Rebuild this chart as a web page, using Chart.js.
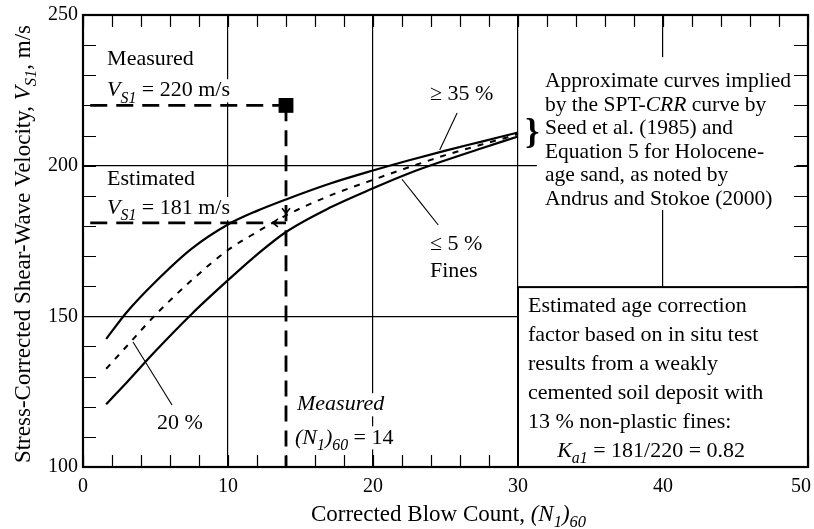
<!DOCTYPE html>
<html lang="en">
<head>
    <meta charset="UTF-8">
    <title>Stress-Corrected Shear-Wave Velocity vs Corrected Blow Count</title>
    <script src="https://cdn.jsdelivr.net/npm/chart.js@4.4.0/dist/chart.umd.min.js"></script>
    <style>
        body {
            margin: 0;
            background: #fff;
        }
        canvas {
            display: block;
        }
    </style>
</head>
<body>
    <canvas id="vsChart" width="814" height="529"></canvas>

    <script>
        // curves
        const blowCount = [1.6, 3, 5, 7.5, 10, 12, 14, 17, 20, 22.5, 25, 27.5, 30];
        const vsFines35 = [142.5, 151.3, 161.5, 172.5, 180.5, 185, 188.8, 194, 198.4, 201.8, 205, 208, 211];
        const vsFines20 = [132.6, 140, 150.5, 162, 172, 178, 183.5, 190, 195.3, 199.5, 203.5, 207, 210.4];
        const vsFines5 = [120.8, 128, 138.5, 150.8, 162, 170.5, 178, 186, 192.5, 197.5, 201.8, 205.8, 209.7];

        // measured / estimated values
        const measuredN = 14;
        const measuredVs = 220;
        const estimatedVs = 181;

        // leader lines [x...], [y...]
        const leader20X = [3.45, 6.14], leader20Y = [141.5, 120.6];
        const leader35X = [25.8, 24.6], leader35Y = [217.5, 205.2];
        const leader5X = [22.0, 24.5], leader5Y = [195.5, 180.3];

        const xTickLabels = [0, 10, 20, 30, 40, 50];
        const yTickLabels = [100, 150, 200, 250];

        const FAM = '"Liberation Serif", "Times New Roman", serif';

        function pts(xs, ys) {
            return xs.map((v, i) => ({ x: v, y: ys[i] }));
        }

        function line(data, width, dash) {
            return {
                type: 'line',
                data: data,
                borderColor: '#000',
                borderWidth: width,
                borderDash: dash || [],
                pointRadius: 0,
                fill: false,
                cubicInterpolationMode: 'monotone'
            };
        }

        // draws text made of segments [text, flags]; flags: i = italic, s = subscript
        function rich(ctx, segs, x, y, size, opts) {
            opts = opts || {};
            const fontOf = f => (f.includes('i') ? 'italic ' : '') + (f.includes('s') ? size * 0.72 : size) + 'px ' + FAM;
            let w = 0;
            segs.forEach(s => { ctx.font = fontOf(s[1] || ''); w += ctx.measureText(s[0]).width; });
            let cx = opts.align === 'center' ? x - w / 2 : x;
            const base = y + size * 0.33;
            if (opts.bg) {
                ctx.fillStyle = '#fff';
                ctx.fillRect(cx - 2, y - size * 0.45, w + 4, size * 1.05);
                return;
            }
            ctx.fillStyle = '#000';
            ctx.textBaseline = 'alphabetic';
            ctx.textAlign = 'left';
            segs.forEach(s => {
                const f = s[1] || '';
                ctx.font = fontOf(f);
                ctx.fillText(s[0], cx, f.includes('s') ? base + size * 0.28 : base);
                cx += ctx.measureText(s[0]).width;
            });
        }

        const approxLines = [
            [['Approximate curves implied']],
            [['by the SPT-'], ['CRR', 'i'], [' curve by']],
            [['Seed et al. (1985) and']],
            [['Equation 5 for Holocene-']],
            [['age sand, as noted by']],
            [['Andrus and Stokoe (2000)']]
        ];
        const boxLines = [
            [['Estimated age correction']],
            [['factor based on in situ test']],
            [['results from a weakly']],
            [['cemented soil deposit with']],
            [['13 % non-plastic fines:']]
        ];
        const kLine = [['K', 'i'], ['a1', 'is'], [' = 181/220 = 0.82']];

        // free labels: [segments, x, y, white backing]
        const labels = [
            [[['Measured']], 1.66, 235.7, false],
            [[['V', 'i'], ['S1', 'is'], [' = 220 m/s']], 1.66, 225.4, true],
            [[['Estimated']], 1.66, 196, false],
            [[['V', 'i'], ['S1', 'is'], [' = 181 m/s']], 1.66, 186.3, true],
            [[['20 %']], 5.1, 114.9, false],
            [[['Measured', 'i']], 14.76, 121.2, true],
            [[['(', 'i'], ['N', 'i'], ['1', 'is'], [')', 'i'], ['60', 'is'], [' = 14']], 14.62, 110.2, true],
            [[['\u2265 35 %']], 23.93, 224.1, false],
            [[['\u2264 5 %']], 23.93, 174.3, false],
            [[['Fines']], 23.93, 165.4, false]
        ];

        const decor = {
            id: 'decor',
            beforeDatasetsDraw(chart) {
                const { ctx, chartArea: a, scales: { x, y } } = chart;
                ctx.save();
                // white backing of the right text block
                ctx.fillStyle = '#fff';
                const bx0 = x.getPixelForValue(31.3), bx1 = x.getPixelForValue(49.2);
                const by0 = y.getPixelForValue(236), by1 = y.getPixelForValue(185.3);
                ctx.fillRect(bx0, by0, bx1 - bx0, by1 - by0);
                labels.forEach(l => {
                    if (l[3]) rich(ctx, l[0], x.getPixelForValue(l[1]), y.getPixelForValue(l[2]), 22, { bg: true });
                });

                // inward tick marks
                ctx.strokeStyle = '#000';
                ctx.lineWidth = 1.2;
                ctx.beginPath();
                x.ticks.forEach(t => {
                    const px = Math.round(x.getPixelForValue(t.value)) + 0.5;
                    ctx.moveTo(px, a.top); ctx.lineTo(px, a.top + 12);
                    ctx.moveTo(px, a.bottom); ctx.lineTo(px, a.bottom - 12);
                });
                y.ticks.forEach(t => {
                    const py = Math.round(y.getPixelForValue(t.value)) + 0.5;
                    ctx.moveTo(a.left, py); ctx.lineTo(a.left + 13, py);
                    ctx.moveTo(a.right, py); ctx.lineTo(a.right - 14, py);
                });
                ctx.stroke();

                // result box
                const kx0 = x.getPixelForValue(30), kx1 = x.getPixelForValue(50);
                const ky0 = y.getPixelForValue(159.7), ky1 = y.getPixelForValue(100);
                ctx.fillStyle = '#fff';
                ctx.fillRect(kx0, ky0, kx1 - kx0, ky1 - ky0);
                ctx.lineWidth = 2;
                ctx.strokeRect(kx0, ky0, kx1 - kx0, ky1 - ky0);
                ctx.restore();
            },
            afterDatasetsDraw(chart) {
                const { ctx, chartArea: a, scales: { x, y } } = chart;
                ctx.save();
                labels.forEach(l => rich(ctx, l[0], x.getPixelForValue(l[1]), y.getPixelForValue(l[2]), 22));

                const ax = x.getPixelForValue(31.86);
                let ay = y.getPixelForValue(228.4);
                approxLines.forEach(l => { rich(ctx, l, ax, ay, 21.5); ay += 23.5; });

                // brace
                ctx.font = 'bold 36px ' + FAM;
                ctx.textBaseline = 'middle';
                ctx.fillStyle = '#000';
                ctx.fillText('}', x.getPixelForValue(30.5), y.getPixelForValue(210.5));

                const tx = x.getPixelForValue(30.69);
                let ty = y.getPixelForValue(153.8);
                boxLines.forEach(l => { rich(ctx, l, tx, ty, 22); ty += 29; });
                rich(ctx, kLine, x.getPixelForValue(32.7), ty, 22);

                // small arrowheads on the dashed construction
                ctx.strokeStyle = '#000';
                ctx.lineWidth = 1.6;
                const dx = x.getPixelForValue(measuredN), dy = y.getPixelForValue(184.2);
                ctx.beginPath();
                ctx.moveTo(dx - 4, dy - 5); ctx.lineTo(dx, dy); ctx.lineTo(dx + 4, dy - 5);
                const lx = x.getPixelForValue(13.1), ly = y.getPixelForValue(estimatedVs);
                ctx.moveTo(lx + 5, ly - 4); ctx.lineTo(lx, ly); ctx.lineTo(lx + 5, ly + 4);
                ctx.moveTo(lx, ly); ctx.lineTo(lx + 11, ly);
                ctx.stroke();

                // plot frame
                ctx.lineWidth = 2.2;
                ctx.strokeRect(a.left, a.top, a.right - a.left, a.bottom - a.top);

                // axis titles
                rich(ctx, [['Corrected Blow Count, '], ['(', 'i'], ['N', 'i'], ['1', 'is'], [')', 'i'], ['60', 'is']],
                    (a.left + a.right) / 2 + 3, a.bottom + 46, 23, { align: 'center' });
                ctx.translate(22, (a.top + a.bottom) / 2 + 3);
                ctx.rotate(-Math.PI / 2);
                rich(ctx, [['Stress-Corrected Shear-Wave Velocity, '], ['V', 'i'], ['S1', 'is'], [', m/s']],
                    0, 0, 23, { align: 'center' });
                ctx.restore();
            }
        };

        const ctx = document.getElementById('vsChart').getContext('2d');
        new Chart(ctx, {
            type: 'scatter',
            data: {
                datasets: [
                    {
                        type: 'scatter',
                        data: [{ x: measuredN, y: measuredVs }],
                        pointStyle: 'rect',
                        pointRadius: 10.5,
                        backgroundColor: '#000',
                        borderColor: '#000',
                        borderWidth: 0
                    },
                    line(pts([0.5, measuredN], [measuredVs, measuredVs]), 2.8, [17, 9]),
                    line(pts([measuredN, measuredN], [measuredVs, 100]), 2.8, [16, 9]),
                    line(pts([0.5, measuredN], [estimatedVs, estimatedVs]), 2.8, [17, 9]),
                    line(pts(blowCount, vsFines35), 2.2),
                    line(pts(blowCount, vsFines20), 2, [6, 7]),
                    line(pts(blowCount, vsFines5), 2.2),
                    line(pts(leader20X, leader20Y), 1.1),
                    line(pts(leader35X, leader35Y), 1.1),
                    line(pts(leader5X, leader5Y), 1.1)
                ]
            },
            options: {
                responsive: false,
                animation: false,
                layout: { autoPadding: false, padding: { top: 15, right: 6, left: 0, bottom: 0 } },
                plugins: {
                    legend: { display: false },
                    tooltip: { enabled: false }
                },
                scales: {
                    x: {
                        type: 'linear',
                        min: 0,
                        max: 50,
                        border: { display: false },
                        grid: {
                            drawTicks: false,
                            lineWidth: 1.2,
                            color: c => (c.tick && c.tick.value % 10 === 0) ? '#000' : 'rgba(0,0,0,0)'
                        },
                        ticks: {
                            stepSize: 2,
                            autoSkip: false,
                            maxRotation: 0,
                            padding: 8,
                            color: '#000',
                            font: { family: FAM, size: 20 },
                            // last label nudged left so it stays inside the canvas
                            callback: v => v === 50 ? '50\u2002\u2009' : (xTickLabels.includes(v) ? String(v) : '')
                        },
                        afterFit: s => { s.height = 62; s.paddingLeft = 0; s.paddingRight = 0; }
                    },
                    y: {
                        type: 'linear',
                        min: 100,
                        max: 250,
                        border: { display: false },
                        grid: {
                            drawTicks: false,
                            lineWidth: 1.2,
                            color: c => (c.tick && c.tick.value % 50 === 0) ? '#000' : 'rgba(0,0,0,0)'
                        },
                        ticks: {
                            stepSize: 10,
                            autoSkip: false,
                            padding: 5,
                            color: '#000',
                            font: { family: FAM, size: 20 },
                            callback: v => yTickLabels.includes(v) ? String(v) : ''
                        },
                        afterFit: s => { s.width = 83; s.paddingTop = 0; s.paddingBottom = 0; }
                    }
                }
            },
            plugins: [decor]
        });
    </script>
</body>
</html>
